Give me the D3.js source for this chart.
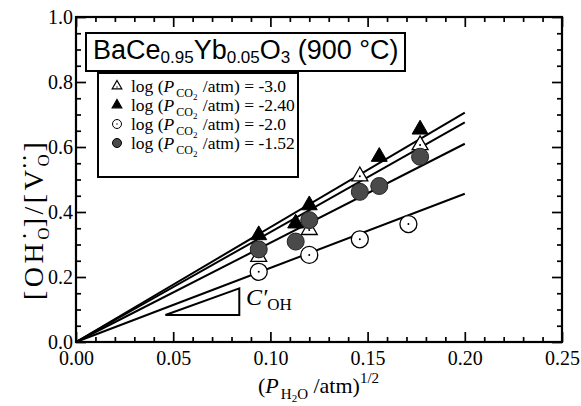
<!DOCTYPE html>
<html>
<head>
<meta charset="utf-8">
<script src="https://cdn.jsdelivr.net/npm/d3@7"></script>
<style>
  body { margin: 0; background: #fff; }
  text { font-family: "Liberation Serif", "Times New Roman", serif; fill: #000; white-space: pre; }
</style>
</head>
<body>
<svg id="chart" width="581" height="406"></svg>
<script>
// values
var legendLabels = ['-3.0', '-2.40', '-2.0', '-1.52'];

var xOpenTri = [0.094, 0.120, 0.146, 0.177];
var yOpenTri = [0.262, 0.345, 0.510, 0.606];

var xFillTri = [0.094, 0.113, 0.120, 0.156, 0.177];
var yFillTri = [0.329, 0.365, 0.421, 0.570, 0.654];

var xOpenCirc = [0.094, 0.120, 0.146, 0.171];
var yOpenCirc = [0.216, 0.268, 0.316, 0.363];

var xGrayCirc = [0.094, 0.113, 0.120, 0.146, 0.156, 0.177];
var yGrayCirc = [0.285, 0.309, 0.375, 0.462, 0.480, 0.570];

// fitted lines through the origin (slope), drawn up to lineEnd
var lineSlopes = [3.53, 3.38, 3.05, 2.28];
var lineEnd = 0.20;

// slope sketch (C'OH)
var slopeTri = [[0.046, 0.083], [0.084, 0.083], [0.084, 0.165]];

var xTicks = [0, 0.05, 0.10, 0.15, 0.20, 0.25];
var yTicks = [0, 0.2, 0.4, 0.6, 0.8, 1.0];

var svg = d3.select('#chart');

var x = d3.scaleLinear().domain([0, 0.25]).range([76, 562]);
var y = d3.scaleLinear().domain([0, 1]).range([342, 17]);

var xMinor = x.ticks(25).filter(function (d) { return xTicks.indexOf(+d.toFixed(2)) < 0; });
var yMinor = y.ticks(20).filter(function (d) { return yTicks.indexOf(+d.toFixed(2)) < 0; });

// axes (ticks point inward on all four sides)
function axis(gen, tr, vals, len, fmt, pad) {
  var g = svg.append('g').attr('transform', tr)
    .call(gen.tickValues(vals).tickSize(-len).tickPadding(pad || 3).tickFormat(fmt || ''));
  g.attr('font-family', null);
  g.select('.domain').remove();
  g.selectAll('line').attr('stroke', '#000').attr('stroke-width', 1.7);
  g.selectAll('text').attr('font-size', 20);
  return g;
}

axis(d3.axisBottom(x), 'translate(0,342)', xTicks, 10, d3.format('.2f'), 9);
axis(d3.axisBottom(x), 'translate(0,342)', xMinor, 5);
axis(d3.axisTop(x), 'translate(0,17)', xTicks, 10);
axis(d3.axisTop(x), 'translate(0,17)', xMinor, 5);
axis(d3.axisLeft(y), 'translate(76,0)', yTicks, 10, d3.format('.1f'), 3);
axis(d3.axisLeft(y), 'translate(76,0)', yMinor, 5);
axis(d3.axisRight(y), 'translate(562,0)', yTicks, 10);
axis(d3.axisRight(y), 'translate(562,0)', yMinor, 5);

svg.append('rect')
  .attr('x', x(0)).attr('y', y(1))
  .attr('width', x(0.25) - x(0)).attr('height', y(0) - y(1))
  .attr('fill', 'none').attr('stroke', '#000').attr('stroke-width', 2.2);

// fitted lines
var line = d3.line().x(function (d) { return x(d[0]); }).y(function (d) { return y(d[1]); });
svg.selectAll('.fit').data(lineSlopes).enter().append('path')
  .attr('class', 'fit')
  .attr('d', function (s) { return line([[0, 0], [lineEnd, s * lineEnd]]); })
  .attr('fill', 'none').attr('stroke', '#000').attr('stroke-width', 2);

// slope sketch
svg.append('path')
  .attr('d', line(slopeTri) + 'Z')
  .attr('fill', 'none').attr('stroke', '#000').attr('stroke-width', 2);

var cLab = svg.append('text').attr('x', 246).attr('y', 305).attr('font-size', 24);
cLab.append('tspan').attr('font-style', 'italic').text('C\u2032');
cLab.append('tspan').attr('font-size', 17).attr('dy', 5).text('OH');

// markers
function zip(xs, ys) { return xs.map(function (d, i) { return [d, ys[i]]; }); }
var tri = d3.symbol().type(d3.symbolTriangle).size(110);

svg.selectAll('.oc').data(zip(xOpenCirc, yOpenCirc)).enter().append('circle')
  .attr('cx', function (d) { return x(d[0]); }).attr('cy', function (d) { return y(d[1]); })
  .attr('r', 8.5).attr('fill', '#fff').attr('stroke', '#000').attr('stroke-width', 1.3);
svg.selectAll('.ocd').data(zip(xOpenCirc, yOpenCirc)).enter().append('circle')
  .attr('cx', function (d) { return x(d[0]); }).attr('cy', function (d) { return y(d[1]); })
  .attr('r', 1).attr('fill', '#000');

svg.selectAll('.ft').data(zip(xFillTri, yFillTri)).enter().append('path')
  .attr('d', tri)
  .attr('transform', function (d) { return 'translate(' + x(d[0]) + ',' + y(d[1]) + ')'; })
  .attr('fill', '#000').attr('stroke', '#000').attr('stroke-width', 1);

svg.selectAll('.ot').data(zip(xOpenTri, yOpenTri)).enter().append('path')
  .attr('d', tri)
  .attr('transform', function (d) { return 'translate(' + x(d[0]) + ',' + y(d[1]) + ')'; })
  .attr('fill', '#fff').attr('stroke', '#000').attr('stroke-width', 1.3);
svg.selectAll('.otd').data(zip(xOpenTri, yOpenTri)).enter().append('circle')
  .attr('cx', function (d) { return x(d[0]); }).attr('cy', function (d) { return y(d[1]); })
  .attr('r', 1).attr('fill', '#000');

svg.selectAll('.gc').data(zip(xGrayCirc, yGrayCirc)).enter().append('circle')
  .attr('cx', function (d) { return x(d[0]); }).attr('cy', function (d) { return y(d[1]); })
  .attr('r', 8.5).attr('fill', '#4a4a4a').attr('stroke', '#222').attr('stroke-width', 1);

// title box
svg.append('rect').attr('x', 86).attr('y', 33).attr('width', 319).attr('height', 38)
  .attr('fill', '#fff').attr('stroke', '#000').attr('stroke-width', 2);
var title = svg.append('text').attr('x', 93).attr('y', 59)
  .attr('font-size', 27).style('font-family', 'Liberation Sans, Arial, sans-serif');
[['BaCe', 0], ['0.95', 1], ['Yb', 0], ['0.05', 1], ['O', 0], ['3', 1], [' (900 \u00B0C)', 0]]
  .forEach(function (p, i, arr) {
    var prev = i ? arr[i - 1][1] : 0;
    title.append('tspan')
      .attr('font-size', p[1] ? 17 : 27)
      .attr('dy', (p[1] - prev) * 4)
      .text(p[0]);
  });

// legend
svg.append('rect').attr('x', 98).attr('y', 73).attr('width', 200).attr('height', 104)
  .attr('fill', '#fff').attr('stroke', '#000').attr('stroke-width', 2);
var legTri = d3.symbol().type(d3.symbolTriangle).size(40);
legendLabels.forEach(function (lab, i) {
  var by = 92 + i * 19, cy = by - 6;
  if (i < 2) {
    svg.append('path').attr('d', legTri).attr('transform', 'translate(117,' + cy + ')')
      .attr('fill', i === 0 ? '#fff' : '#000').attr('stroke', '#000').attr('stroke-width', 1.2);
  } else {
    svg.append('circle').attr('cx', 117).attr('cy', cy).attr('r', 4.5)
      .attr('fill', i === 2 ? '#fff' : '#4a4a4a').attr('stroke', '#000').attr('stroke-width', 1);
  }
  if (i === 0 || i === 2) svg.append('circle').attr('cx', 117).attr('cy', cy + (i === 0 ? 1 : 0)).attr('r', 0.7).attr('fill', '#000');
  var t = svg.append('text').attr('x', 131).attr('y', by).attr('font-size', 17.5);
  t.append('tspan').text('log (');
  t.append('tspan').attr('font-style', 'italic').text('P');
  t.append('tspan').attr('font-size', 12).attr('dx', 2).attr('dy', 5).text('CO');
  t.append('tspan').attr('font-size', 9).attr('dy', 3).text('2');
  t.append('tspan').attr('font-size', 17.5).attr('dx', 1).attr('dy', -8).text(' /atm) = ' + lab);
});

// x axis title
var xt = svg.append('text').attr('x', 258).attr('y', 393).attr('font-size', 22);
xt.append('tspan').text('(');
xt.append('tspan').attr('font-style', 'italic').text('P');
xt.append('tspan').attr('font-size', 15).attr('dx', 2).attr('dy', 6).text('H');
xt.append('tspan').attr('font-size', 11).attr('dy', 3).text('2');
xt.append('tspan').attr('font-size', 15).attr('dy', -3).text('O');
xt.append('tspan').attr('font-size', 22).attr('dy', -6).text(' /atm)');
xt.append('tspan').attr('font-size', 15).attr('dy', -10).text('1/2');

// y axis title (rotated)
var yt = svg.append('text').attr('transform', 'translate(43,300) rotate(-90)')
  .attr('font-size', 28).attr('letter-spacing', 3.5);
yt.append('tspan').text('[OH');
yt.append('tspan').attr('font-size', 17).attr('dy', 6).text('O');
yt.append('tspan').attr('font-size', 12).attr('dx', -14).attr('dy', -20).text('\u2022');
yt.append('tspan').attr('font-size', 28).attr('dx', 3).attr('dy', 14).text(']/[V');
yt.append('tspan').attr('font-size', 17).attr('dy', 6).text('O');
yt.append('tspan').attr('font-size', 12).attr('dx', -17).attr('dy', -20).text('\u2022\u2022');
yt.append('tspan').attr('font-size', 28).attr('dx', 1).attr('dy', 14).text(']');
</script>
</body>
</html>
